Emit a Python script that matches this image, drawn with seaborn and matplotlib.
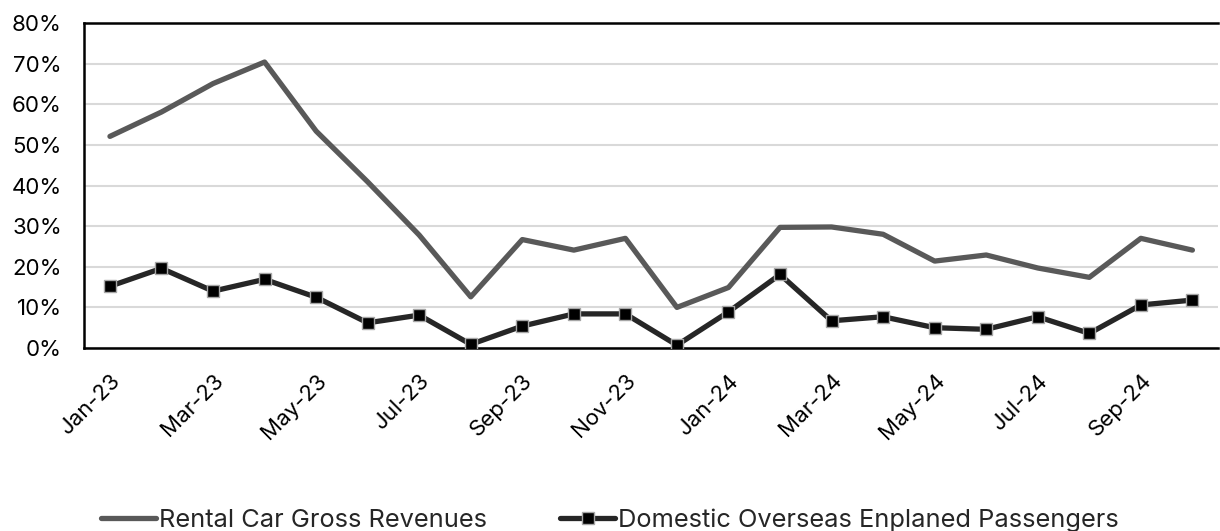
import matplotlib
matplotlib.use("Agg")
import matplotlib.pyplot as plt
import matplotlib.transforms as mtransforms
from matplotlib.ticker import FuncFormatter, MultipleLocator
import seaborn as sns
import numpy as np
import pandas as pd

months = ["Jan-23", "Feb-23", "Mar-23", "Apr-23", "May-23", "Jun-23",
          "Jul-23", "Aug-23", "Sep-23", "Oct-23", "Nov-23", "Dec-23",
          "Jan-24", "Feb-24", "Mar-24", "Apr-24", "May-24", "Jun-24",
          "Jul-24", "Aug-24", "Sep-24", "Oct-24"]

rental_car = [0.521, 0.581, 0.651, 0.704, 0.534, 0.409,
              0.278, 0.126, 0.267, 0.241, 0.270, 0.100,
              0.149, 0.297, 0.298, 0.280, 0.214, 0.229,
              0.197, 0.174, 0.270, 0.241]

overseas_pax = [0.152, 0.196, 0.140, 0.169, 0.125, 0.062,
                0.081, 0.009, 0.054, 0.084, 0.084, 0.007,
                0.089, 0.181, 0.067, 0.077, 0.050, 0.046,
                0.077, 0.036, 0.106, 0.118]

series_names = ["Rental Car Gross Revenues",
                "Domestic Overseas Enplaned Passengers"]

sns.set_theme(style="white")
plt.rcParams["font.family"] = ["Inter", "DejaVu Sans"]

fig = plt.figure(figsize=(12.2, 5.31), dpi=100)
ax = fig.add_axes([0.069, 0.3446, 0.9295, 0.612])

x = np.arange(len(months))
df = pd.DataFrame({"idx": x, "rental": rental_car, "pax": overseas_pax})

sns.lineplot(data=df, x="idx", y="rental", ax=ax, color="#595959",
             linewidth=3.8, solid_capstyle="round", label=series_names[0],
             zorder=3)
sns.lineplot(data=df, x="idx", y="pax", ax=ax, color="#262626",
             linewidth=3.8, marker="s", markersize=8.5,
             markerfacecolor="black", markeredgecolor="#A6A6A6",
             markeredgewidth=1.0, label=series_names[1], zorder=4)

ax.set_xlim(-0.5, len(months) - 0.5)
ax.set_ylim(0, 0.8)
ax.yaxis.set_major_locator(MultipleLocator(0.1))
ax.yaxis.set_major_formatter(FuncFormatter(lambda v, _: f"{v * 100:.0f}%"))
ax.grid(axis="y", color="#D9D9D9", linewidth=1.5, zorder=0)
ax.set_axisbelow(True)

ax.set_xticks(x[::2])
ax.set_xticklabels(months[::2], rotation=45, ha="right", va="top",
                   rotation_mode="anchor", fontsize=16, color="black")
offset = mtransforms.ScaledTranslation(-0.05, 0, fig.dpi_scale_trans)
for lbl in ax.get_xticklabels():
    lbl.set_transform(lbl.get_transform() + offset)
ax.tick_params(axis="x", length=0, pad=16)
ax.tick_params(axis="y", length=0, pad=16, labelsize=16, labelcolor="black")

ax.set_xlabel("")
ax.set_ylabel("")

for side in ["left", "top", "bottom"]:
    ax.spines[side].set_visible(True)
    ax.spines[side].set_color("black")
    ax.spines[side].set_linewidth(1.8)
ax.spines["right"].set_visible(False)

ax.legend(loc="center", bbox_to_anchor=(0.5, 0.02), bbox_transform=fig.transFigure,
          ncol=2, frameon=False, fontsize=18.3, handlelength=2.16,
          handletextpad=0.12, columnspacing=2.9)

fig.savefig("out.png", dpi=100)
